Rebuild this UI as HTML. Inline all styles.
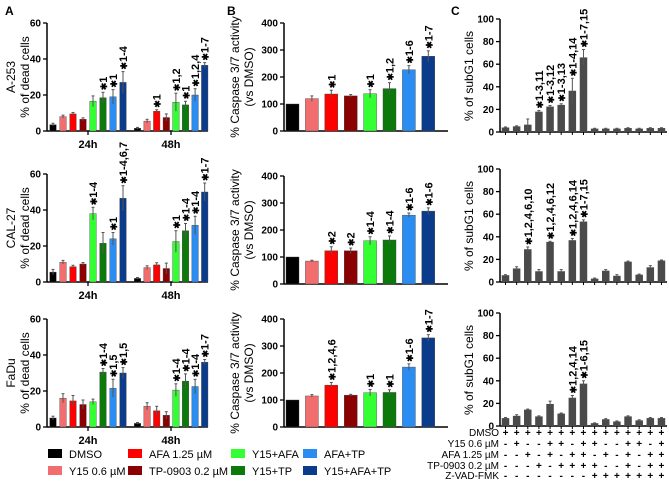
<!DOCTYPE html>
<html><head><meta charset="utf-8"><style>
body{margin:0;background:#fff}
svg{display:block;font-family:"Liberation Sans",Arial,sans-serif}
.tk{font-size:10px;font-weight:bold}
.yt{font-size:12px}
.an{font-size:11px;font-weight:bold}
.lg{font-size:11px}
</style></head><body>
<svg id="fig" width="669" height="482" viewBox="0 0 669 482">
<text x="5" y="15" font-weight="bold" font-size="12">A</text>
<text x="227" y="15" font-weight="bold" font-size="12">B</text>
<text x="451" y="15" font-weight="bold" font-size="12">C</text>
</svg>
<script>
const colors=["#000000","#f26d6d","#ff0000","#8b0000","#33ff33","#0b7a0b","#2b8cf2","#0b3c8c"];
const legendLabels=["DMSO","Y15 0.6 µM","AFA 1.25 µM","TP-0903 0.2 µM","Y15+AFA","Y15+TP","AFA+TP","Y15+AFA+TP"];
const cellLines=["A-253","CAL-27","FaDu"];
// Panel A: % dead cells, 24h and 48h
const a24=[[3.5,8,9.5,6.5,16.5,18.5,19,27],[5.5,11,8.5,10,38,21.5,24,46.5],[5,16,14.5,12.5,14,30.5,21.5,30]];
const a24e=[[0.8,0.8,0.8,0.8,3,3,4,6],[1.5,1,0.8,0.8,3.5,6,3.5,7],[1,2.5,3,2.5,1.5,2,5,3]];
const a24l=[["","","","","","*1","*1","*1-4"],["","","","","*1-4","","*1","*1-4,6,7"],["","","","","","*1-4","*1,5","*1,5"]];
const a48=[[1.5,5.5,11,7.5,16,14.5,20,36.5],[2,8,9.5,7.5,22.5,28.5,31.5,50],[2,11.5,9,6.5,20.5,25.5,22.5,36]];
const a48e=[[0.5,1,0.8,2,5,2,3.5,1.5],[0.5,1,1.2,3,6,4,5,5],[0.5,2,2.5,2,3.5,4,4,1.5]];
const a48l=[["","","*1","","*1,2","*1","*1,2,4","*1-7"],["","","","","*1","*1-4","*1-4","*1-7"],["","","","","*1-4","*1-4","*1-4","*1-7"]];
const aTicks=[0,20,40,60];
// Panel B: caspase 3/7 activity
const bVals=[[100,120,137,130,138,157,227,277],[100,85,123,123,160,163,255,270],[100,115,155,118,127,128,222,330]];
const bErr=[[0,10,14,5,15,22,15,20],[0,3,15,10,15,15,8,12],[0,5,10,3,12,10,12,12]];
const bLab=[["","","*1","","*1","*1,2","*1-6","*1-7"],["","","*2","*2","*1-4","*1-4","*1-6","*1-6"],["","","*1,2,4,6","","*1","*1","*1-6","*1-7"]];
const bTicks=[0,100,200,300,400];
// Panel C: subG1
const cVals=[[4,5,6.5,18,22.5,24,36.5,66,3,3,3,3.5,3,3.5,3.5],[6,12,29,9.5,35.5,9.5,37,53.5,3,10,5.5,18,6.5,13,19],[7,9,14.5,8.5,19.5,11,25,37.5,2.5,6,4,8.5,5,7,7]];
const cErr=[[0.5,0.5,5,1,1,1,11,7,0.3,0.3,0.3,0.3,0.3,0.3,0.3],[0.5,1.5,2,1.5,0.5,1.5,1.5,1.5,0.5,1,1,0.5,0.5,1.5,0.5],[0.5,1,0.5,0.5,2.5,0.5,2,2.5,0.3,0.5,0.5,0.5,0.5,0.5,0.5]];
const cLab=[["","","","*1-3,11","*1-3,12","*1-3,13","*1-4,14","*1-7,15","","","","","","",""],
["","","*1,2,4,6,10","","*1,2,4,6,12","","*1,2,4,6,14","*1-7,15","","","","","","",""],
["","","","","","","*1,2,4,14","*1-6,15","","","","","","",""]];
const cTicks=[0,20,40,60,80,100];
const tableRows=["DMSO","Y15 0.6 µM","AFA 1.25 µM","TP-0903 0.2 µM","Z-VAD-FMK"];
const tableSigns=["+++++++++++++++","-+--++-++--++-+","--+-+-++-+-+-++","---+-++++--+-++","--------+++++++"];

const NS="http://www.w3.org/2000/svg";
const svg=document.getElementById('fig');
function el(t,a,txt){const e=document.createElementNS(NS,t);for(const k in a)e.setAttribute(k,a[k]);if(txt!==undefined)e.textContent=txt;svg.appendChild(e);return e;}

function yAxis(ax,y0,h,max,ticks,name){
  const sy=v=>y0-v/max*h;
  const l=el('line',{x1:ax,y1:y0,x2:ax,y2:y0-h,stroke:'#000','stroke-width':1.5});
  
  
  ticks.forEach(t=>{
    el('line',{x1:ax-4,y1:sy(t),x2:ax,y2:sy(t),stroke:'#000','stroke-width':1.3});
    const tx=el('text',{x:ax-6,y:sy(t)+3.5,'text-anchor':'end',class:'tk'},String(t));
    
    
  });
  return sy;
}
function bar(cx,w,y0,sy,v,e,col,lab,name,gray){
  const r=el('rect',{x:cx-w/2,y:sy(v),width:w,height:y0-sy(v),fill:col,stroke:gray?'none':'#444','stroke-width':0.4});
  
  
  const top=sy(v+e);
  if(e>0){el('line',{x1:cx,y1:sy(v+e),x2:cx,y2:sy(Math.max(0,v-e)),stroke:'#555','stroke-width':1});
    el('line',{x1:cx-1.5,y1:top,x2:cx+1.5,y2:top,stroke:'#555','stroke-width':1});}
  if(lab){
    const t=el('text',{transform:`translate(${cx+4},${top-2}) rotate(-90)`,class:'an'});
    
    
    const s=document.createElementNS(NS,'tspan');s.setAttribute('font-size','9');s.textContent='✱';t.appendChild(s);
    const s2=document.createElementNS(NS,'tspan');s2.textContent=lab.slice(1);t.appendChild(s2);
  }
}
function rotText(x,y,txt,name){
  const t=el('text',{transform:`translate(${x},${y}) rotate(-90)`,'text-anchor':'middle',class:'yt'},txt);
  
  
}

const aY0=[131,282,427], bY0=[131,284,427], cY0=[132,282,426];
for(let r=0;r<3;r++){
  const y0=aY0[r];
  const sy=yAxis(47,y0,108,60,aTicks,'panel-a-'+cellLines[r]);
  const xl=el('line',{x1:47,y1:y0,x2:208,y2:y0,stroke:'#000','stroke-width':1.5});
  
  
  [88,171].forEach((x,i)=>{el('line',{x1:x,y1:y0,x2:x,y2:y0+4,stroke:'#000','stroke-width':1.3});
    const t=el('text',{x:x,y:y0+17,'text-anchor':'middle','font-weight':'bold','font-size':'11'},i?'48h':'24h');
    
    });
  for(let i=0;i<8;i++){
    bar(53+10*i,6.5,y0,sy,a24[r][i],a24e[r][i],colors[i],a24l[r][i],'bar-24h-'+i,false);
    bar(137.5+9.6*i,6.5,y0,sy,a48[r][i],a48e[r][i],colors[i],a48l[r][i],'bar-48h-'+i,false);
  }
  rotText(15,y0-54,cellLines[r],'cell-line-label');
  rotText(29,y0-54,'% of dead cells','panel-a-y-axis-title');
  const by=bY0[r];
  const sb=yAxis(284,by,108,400,bTicks,'panel-b');
  const bl=el('line',{x1:284,y1:by,x2:448,y2:by,stroke:'#000','stroke-width':1.5});
  
  
  for(let i=0;i<8;i++) bar(292.5+19.4*i,13,by,sb,bVals[r][i],bErr[r][i],colors[i],bLab[r][i],'bar-caspase-'+i,false);
  rotText(239,by-54,'% Caspase 3/7 activity','panel-b-y-axis-title');
  rotText(253,by-54,'(vs DMSO)','panel-b-y-axis-subtitle');
  const cy=cY0[r];
  const sc=yAxis(500,cy,113,100,cTicks,'panel-c');
  const cl=el('line',{x1:500,y1:cy,x2:667,y2:cy,stroke:'#000','stroke-width':1.5});
  
  
  for(let i=0;i<15;i++){
    const cx=505.5+11.14*i;
    el('line',{x1:cx,y1:cy,x2:cx,y2:cy+3,stroke:'#000','stroke-width':1});
    bar(cx,7.5,cy,sc,cVals[r][i],cErr[r][i],'#4a4a4a',cLab[r][i],'bar-subg1-'+i,true);
  }
  rotText(473,cy-56,'% of subG1 cells','panel-c-y-axis-title');
}
const ty=[436,447,458,469,479];
tableRows.forEach((n,j)=>{
  const t=el('text',{x:499,y:ty[j],'text-anchor':'end','font-size':'10'},n);
  
  
  for(let i=0;i<15;i++){
    const s=el('text',{x:505.5+11.14*i,y:ty[j],'text-anchor':'middle','font-size':'10','font-weight':'bold'},tableSigns[j][i]);
    
    
  }
});
const lgX=[48,128,231,303], lgY=[458,475];
legendLabels.forEach((n,i)=>{
  const c=Math.floor(i/2), r=i%2;
  const g=el('rect',{x:lgX[c],y:lgY[r]-9,width:14,height:9,fill:colors[i]});
  
  
  const t=el('text',{x:lgX[c]+21,y:lgY[r],class:'lg'},n);
  
  
});
</script>
</body></html>
